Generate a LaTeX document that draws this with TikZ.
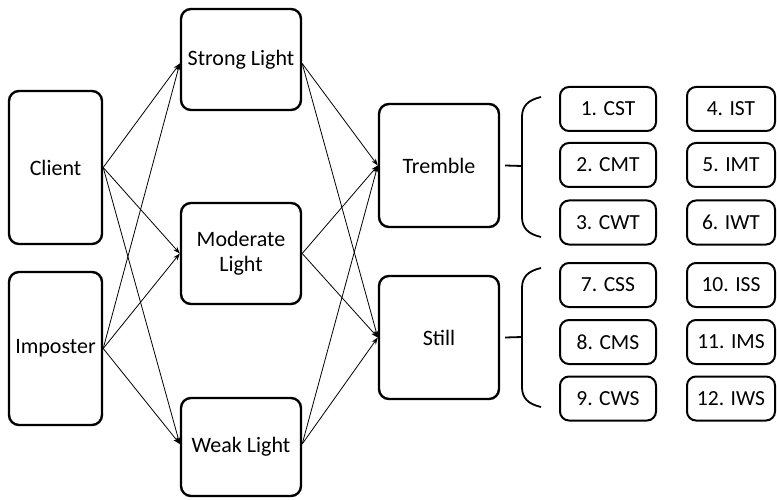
\documentclass[tikz,border=0pt]{standalone}
\usepackage{fontspec}
\setmainfont{Carlito}
\usetikzlibrary{arrows.meta}
\begin{document}
\begin{tikzpicture}[x=1pt,y=-1pt,
  bigbox/.style={draw, line width=2.4pt, rounded corners=10pt, align=center,
    inner sep=0pt, font=\fontsize{22}{25}\selectfont},
  smallbox/.style={draw, line width=2pt, rounded corners=9pt, align=center,
    inner sep=0pt, minimum height=44pt, font=\fontsize{21.5}{24}\selectfont},
  arr/.style={line width=0.8pt, -{Stealth[length=7pt,width=5pt]}},
  brk/.style={line width=1.8pt}]
\useasboundingbox (0,0) rectangle (777,500);
% left column
\node[bigbox, minimum width=93pt, minimum height=153pt] (client) at (55.5,167.5) {Client};
\node[bigbox, minimum width=93pt, minimum height=153pt] (imposter) at (55.5,348.5) {Imposter};
% light column
\node[bigbox, minimum width=120pt, minimum height=101pt] (strong) at (241,59.5) {Strong Light};
\node[bigbox, minimum width=120pt, minimum height=101pt] (moderate) at (241,253.5) {Moderate\\Light};
\node[bigbox, minimum width=120pt, minimum height=98pt] (weak) at (241,447) {Weak Light};
% state column
\node[bigbox, minimum width=120pt, minimum height=123pt] (tremble) at (439,165.5) {Tremble};
\node[bigbox, minimum width=120pt, minimum height=123pt] (still) at (439,337.5) {Still};
% connectors
\foreach \s in {client,imposter}{
  \draw[arr] (\s.east) -- ([yshift=-4pt]strong.west);
  \draw[arr] (\s.east) -- (moderate.west);
  \draw[arr] (\s.east) -- ([yshift=3pt]weak.west);
}
\foreach \t in {tremble,still}{
  \draw[arr] ([yshift=-4pt]strong.east) -- (\t.west);
  \draw[arr] (moderate.east) -- (\t.west);
  \draw[arr] ([yshift=3pt]weak.east) -- (\t.west);
}
% brackets
\coordinate (b1) at (522,166);
\coordinate (b2) at (522,337);
\draw[brk] ([xshift=5pt]tremble.east) -- (b1);
\draw[brk] ([xshift=5pt]still.east) -- (b2);
\draw[brk] (541,97) .. controls (528,100) and (522,106) .. (522,117) -- (522,217)
  .. controls (522,228) and (528,234) .. (541,237);
\draw[brk] (541,268) .. controls (528,271) and (522,277) .. (522,288) -- (522,387)
  .. controls (522,398) and (528,404) .. (541,407);
% outcome boxes
\node[smallbox, minimum width=96pt] (c1) at (608,109) {1. CST};
\node[smallbox, minimum width=96pt] (c2) at (608,165) {2. CMT};
\node[smallbox, minimum width=96pt] (c3) at (608,222.5) {3. CWT};
\node[smallbox, minimum width=96pt] (c7) at (608,285) {7. CSS};
\node[smallbox, minimum width=96pt] (c8) at (608,342) {8. CMS};
\node[smallbox, minimum width=96pt] (c9) at (608,398.5) {9. CWS};
\node[smallbox, minimum width=88pt] (i4) at (731,109) {4. IST};
\node[smallbox, minimum width=88pt] (i5) at (731,165) {5. IMT};
\node[smallbox, minimum width=88pt] (i6) at (731,222.5) {6. IWT};
\node[smallbox, minimum width=88pt] (i10) at (731,285) {10. ISS};
\node[smallbox, minimum width=88pt] (i11) at (731,342) {11. IMS};
\node[smallbox, minimum width=88pt] (i12) at (731,398.5) {12. IWS};
\end{tikzpicture}
\end{document}
